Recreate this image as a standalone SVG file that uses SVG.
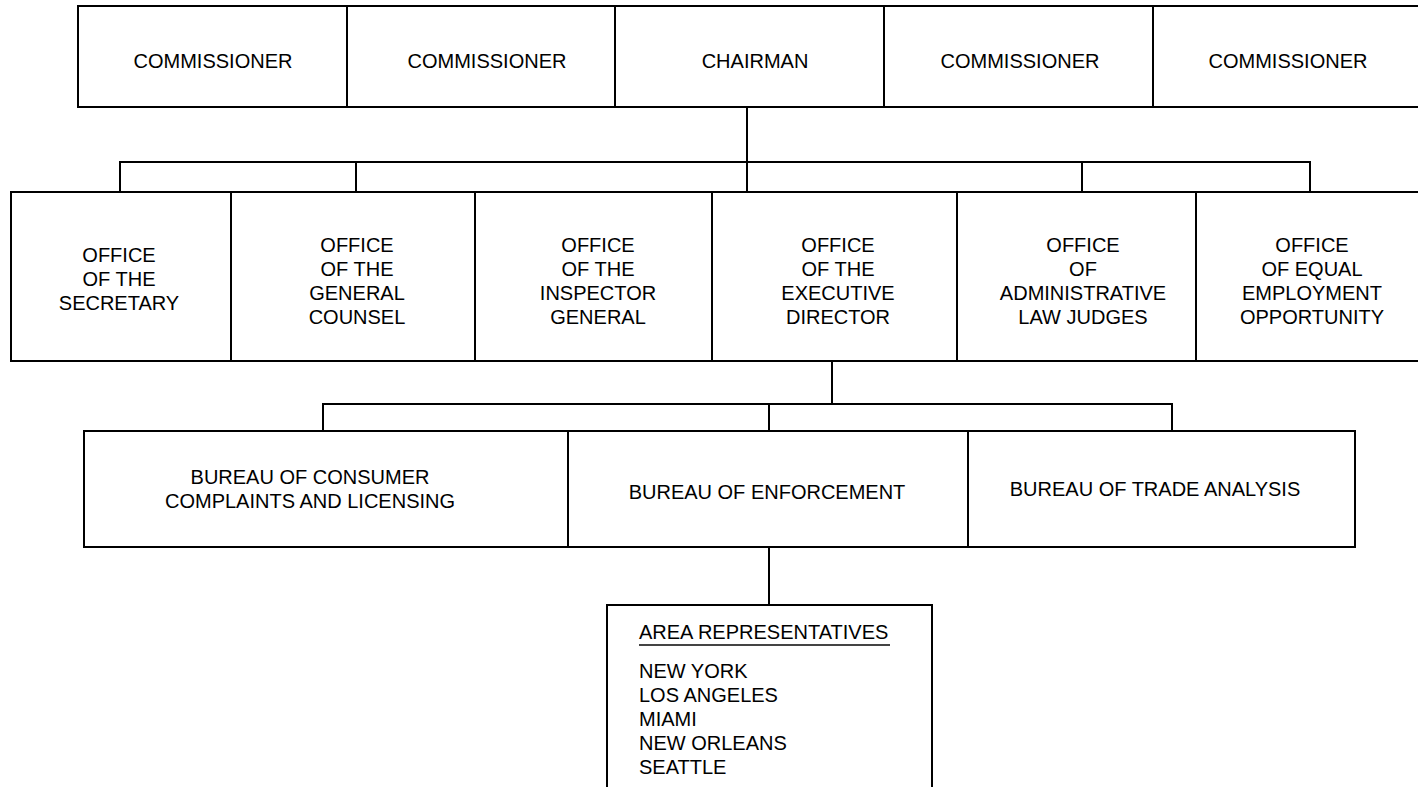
<svg xmlns="http://www.w3.org/2000/svg" width="1418" height="787" viewBox="0 0 1418 787">
<style>
.box{fill:#fff;stroke:#000;stroke-width:2}
.t{font-family:"Liberation Sans",Arial,sans-serif;font-size:20px;fill:#000;text-anchor:middle}
.a{font-family:"Liberation Sans",Arial,sans-serif;font-size:20px;fill:#000}
.c{fill:none;stroke:#000;stroke-width:2}
</style>
<rect width="1418" height="787" fill="#fff"/>
<g id="connectors">
<path class="c" d="M747 107V162M120 192V162H1310V192M356 162V192M747 162V192M1082 162V192"/>
<path class="c" d="M832 361V404M323 431V404H1172V431M769 404V431"/>
<path class="c" d="M769 547V605"/>
</g>
<g id="commissioner1"><rect class="box" x="78" y="6" width="269" height="101"/><text class="t" x="213" y="68">COMMISSIONER</text></g>
<g id="commissioner2"><rect class="box" x="347" y="6" width="268" height="101"/><text class="t" x="487" y="68">COMMISSIONER</text></g>
<g id="chairman"><rect class="box" x="615" y="6" width="269" height="101"/><text class="t" x="755" y="68">CHAIRMAN</text></g>
<g id="commissioner3"><rect class="box" x="884" y="6" width="269" height="101"/><text class="t" x="1020" y="68">COMMISSIONER</text></g>
<g id="commissioner4"><rect class="box" x="1153" y="6" width="272" height="101"/><text class="t" x="1288" y="68">COMMISSIONER</text></g>

<g id="secretary"><rect class="box" x="11" y="192" width="220" height="169"/><text class="t"><tspan x="119" y="262">OFFICE</tspan><tspan x="119" y="286">OF THE</tspan><tspan x="119" y="310">SECRETARY</tspan></text></g>
<g id="general-counsel"><rect class="box" x="231" y="192" width="244" height="169"/><text class="t"><tspan x="357" y="252">OFFICE</tspan><tspan x="357" y="276">OF THE</tspan><tspan x="357" y="300">GENERAL</tspan><tspan x="357" y="324">COUNSEL</tspan></text></g>
<g id="inspector-general"><rect class="box" x="475" y="192" width="237" height="169"/><text class="t"><tspan x="598" y="252">OFFICE</tspan><tspan x="598" y="276">OF THE</tspan><tspan x="598" y="300">INSPECTOR</tspan><tspan x="598" y="324">GENERAL</tspan></text></g>
<g id="executive-director"><rect class="box" x="712" y="192" width="245" height="169"/><text class="t"><tspan x="838" y="252">OFFICE</tspan><tspan x="838" y="276">OF THE</tspan><tspan x="838" y="300">EXECUTIVE</tspan><tspan x="838" y="324">DIRECTOR</tspan></text></g>
<g id="admin-law-judges"><rect class="box" x="957" y="192" width="239" height="169"/><text class="t"><tspan x="1083" y="252">OFFICE</tspan><tspan x="1083" y="276">OF</tspan><tspan x="1083" y="300">ADMINISTRATIVE</tspan><tspan x="1083" y="324">LAW JUDGES</tspan></text></g>
<g id="equal-employment"><rect class="box" x="1196" y="192" width="229" height="169"/><text class="t"><tspan x="1312" y="252">OFFICE</tspan><tspan x="1312" y="276">OF EQUAL</tspan><tspan x="1312" y="300">EMPLOYMENT</tspan><tspan x="1312" y="324">OPPORTUNITY</tspan></text></g>

<g id="consumer-complaints"><rect class="box" x="84" y="431" width="484" height="116"/><text class="t"><tspan x="310" y="484">BUREAU OF CONSUMER</tspan><tspan x="310" y="508">COMPLAINTS AND LICENSING</tspan></text></g>
<g id="enforcement"><rect class="box" x="568" y="431" width="400" height="116"/><text class="t" x="767" y="499">BUREAU OF ENFORCEMENT</text></g>
<g id="trade-analysis"><rect class="box" x="968" y="431" width="387" height="116"/><text class="t" x="1155" y="496">BUREAU OF TRADE ANALYSIS</text></g>

<g id="area-representatives"><rect class="box" x="607" y="605" width="325" height="200"/>
<text class="a" x="639" y="639">AREA REPRESENTATIVES</text>
<line x1="639" y1="645" x2="890" y2="645" stroke="#444" stroke-width="2"/>
<text class="a"><tspan x="639" y="678">NEW YORK</tspan><tspan x="639" y="702">LOS ANGELES</tspan><tspan x="639" y="726">MIAMI</tspan><tspan x="639" y="750">NEW ORLEANS</tspan><tspan x="639" y="774">SEATTLE</tspan></text>
</g>
</svg>
